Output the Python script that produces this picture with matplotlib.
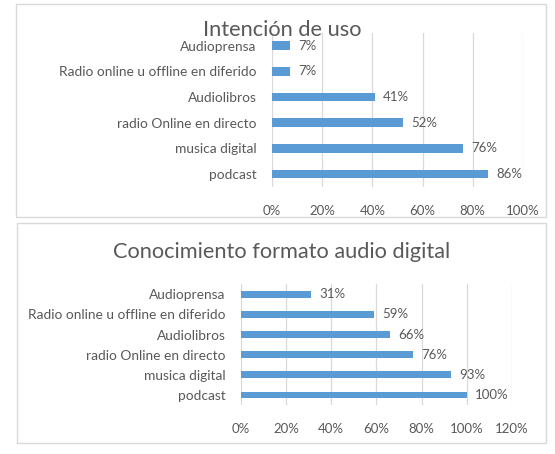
import matplotlib
matplotlib.use('Agg')
import matplotlib.pyplot as plt
from matplotlib.patches import Rectangle
from matplotlib.ticker import PercentFormatter

plt.rcParams['font.family'] = ['Lato', 'DejaVu Sans']

categorias = ["Audioprensa", "Radio online u offline en diferido", "Audiolibros",
              "radio Online en directo", "musica digital", "podcast"]
intencion = [7, 7, 41, 52, 76, 86]
conocimiento = [31, 59, 66, 76, 93, 100]
titulo_1 = "Intención de uso"
titulo_2 = "Conocimiento formato audio digital"

W, H = 555, 454
BAR = "#5B9BD5"
GRID = "#D9D9D9"
TXT = "#595959"

fig = plt.figure(figsize=(W / 100, H / 100), dpi=100)


def px_axes(x0, y0, x1, y1):
    return fig.add_axes([x0 / W, 1 - y1 / H, (x1 - x0) / W, (y1 - y0) / H])


def panel(x0, y0, x1, y1):
    fig.patches.append(Rectangle((x0 / W, 1 - y1 / H), (x1 - x0) / W, (y1 - y0) / H,
                                 transform=fig.transFigure, fill=False,
                                 edgecolor=GRID, linewidth=1.0))


def draw(ax, values, xmax):
    y = range(len(categorias))
    ax.barh(y, values, height=0.34, color=BAR, zorder=3)
    ax.set_yticks(list(y))
    ax.set_yticklabels(categorias, fontsize=9.9, color=TXT)
    ax.set_ylim(len(categorias) - 0.5, -0.5)
    ax.set_xlim(0, xmax)
    ax.set_xticks(range(0, xmax + 1, 20))
    ax.xaxis.set_major_formatter(PercentFormatter(decimals=0))
    ax.tick_params(axis='x', labelsize=9.5, labelcolor=TXT, length=0, pad=13)
    ax.tick_params(axis='y', length=0, pad=11)
    ax.grid(axis='x', color=GRID, linewidth=0.9, zorder=0)
    for s in ax.spines.values():
        s.set_visible(False)
    for i, v in enumerate(values):
        ax.annotate(f"{v}%", (v, i), xytext=(6, 0), textcoords="offset points",
                    va="center", ha="left", fontsize=9.5, color=TXT)


panel(16, 4, 546, 216.5)
panel(17, 223, 546, 442.5)

ax1 = px_axes(272, 33, 523, 186.8)
draw(ax1, intencion, 100)
fig.text(282.5 / W, 1 - 30 / H, titulo_1, ha="center", va="center", fontsize=15.7, color=TXT)

ax2 = px_axes(240.7, 284.3, 512, 405)
draw(ax2, conocimiento, 120)
fig.text(281.5 / W, 1 - 251.5 / H, titulo_2, ha="center", va="center", fontsize=15.7, color=TXT)

fig.savefig("out.png", dpi=100)
